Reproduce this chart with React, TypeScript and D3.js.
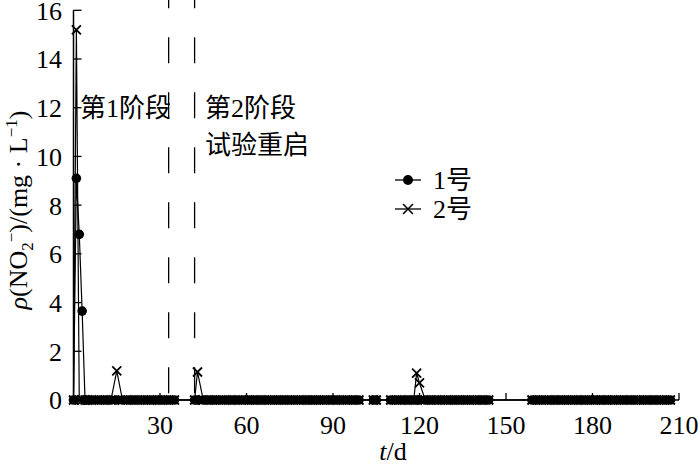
import React from "react";
import * as d3 from "d3";

// sampling days (t/d), shared by both reactors
const days = [
  0, 1, 2, 3, 4, 5, 7, 9, 11, 13, 15, 17, 19, 21, 23, 25, 27, 29, 31, 33, 35,
  42, 43, 45, 47, 49, 51, 53, 55, 57, 59, 61, 63, 65, 67, 69, 71, 73, 75, 77,
  79, 81, 83, 85, 87, 89, 91, 93, 95, 97, 99,
  104, 105,
  110, 112, 114, 116, 118, 119, 120, 122, 124, 126, 128, 130, 132, 134, 136,
  138, 140, 142, 144,
  159, 161, 163, 165, 167, 169, 171, 173, 175, 177, 179, 181, 183, 185, 187,
  189, 191, 193, 195, 197, 199, 201, 203, 205, 207,
];

// 1号 NO2- (mg/L)
const no1 = [
  0, 9.1, 6.8, 3.65, 0, 0, 0, 0, 0, 0, 0, 0, 0, 0, 0, 0, 0, 0, 0, 0, 0,
  0, 0, 0, 0, 0, 0, 0, 0, 0, 0, 0, 0, 0, 0, 0, 0, 0, 0, 0,
  0, 0, 0, 0, 0, 0, 0, 0, 0, 0, 0,
  0, 0,
  0, 0, 0, 0, 0, 0, 0, 0, 0, 0, 0, 0, 0, 0, 0,
  0, 0, 0, 0,
  0, 0, 0, 0, 0, 0, 0, 0, 0, 0, 0, 0, 0, 0, 0,
  0, 0, 0, 0, 0, 0, 0, 0, 0, 0,
];

// 2号 NO2- (mg/L)
const no2 = [
  0, 15.2, 0, 0, 0, 0, 0, 0, 0, 0, 1.2, 0, 0, 0, 0, 0, 0, 0, 0, 0, 0,
  0, 1.15, 0, 0, 0, 0, 0, 0, 0, 0, 0, 0, 0, 0, 0, 0, 0, 0, 0,
  0, 0, 0, 0, 0, 0, 0, 0, 0, 0, 0,
  0, 0,
  0, 0, 0, 0, 0, 1.1, 0.7, 0, 0, 0, 0, 0, 0, 0, 0,
  0, 0, 0, 0,
  0, 0, 0, 0, 0, 0, 0, 0, 0, 0, 0, 0, 0, 0, 0,
  0, 0, 0, 0, 0, 0, 0, 0, 0, 0,
];

const xTicks = [30, 60, 90, 120, 150, 180, 210];
const yTicks = [0, 2, 4, 6, 8, 10, 12, 14, 16];
const stageDays = [33, 42];

const W = 700;
const H = 465;
const SERIF = "'Times New Roman', 'Liberation Serif', 'Noto Sans CJK SC', serif";

export default function App() {
  const x = d3.scaleLinear().domain([0, 210]).range([73.5, 679]);
  const y = d3.scaleLinear().domain([0, 16]).range([400, 10.3]);

  const line = d3
    .line<number>()
    .x((_, i) => x(days[i]))
    .y((d) => y(d));

  const cross = (cx: number, cy: number, s = 4.5) =>
    `M${cx - s},${cy - s}L${cx + s},${cy + s}M${cx - s},${cy + s}L${cx + s},${cy - s}`;

  const [y0, y1] = y.range();

  return (
    <svg
      width={W}
      height={H}
      style={{ position: "absolute", left: 0, top: 0, background: "#fff" }}
      fontFamily={SERIF}
    >
      {/* stage separators */}
      {stageDays.map((d) => (
        <line
          key={d}
          x1={x(d)}
          x2={x(d)}
          y1={y1 - 28}
          y2={y0}
          stroke="#000"
          strokeWidth={1.3}
          strokeDasharray="26 29"
        />
      ))}

      {/* axes */}
      <line x1={x(0)} x2={x(0)} y1={y1} y2={y0} stroke="#000" strokeWidth={1.5} />
      <line x1={x(0)} x2={x(210)} y1={y0} y2={y0} stroke="#000" strokeWidth={1.5} />
      {yTicks.map((t) => (
        <g key={t}>
          <line x1={x(0)} x2={x(0) + 8} y1={y(t)} y2={y(t)} stroke="#000" strokeWidth={1.3} />
          <text x={62} y={y(t)} dy="0.36em" textAnchor="end" fontSize={26}>
            {t}
          </text>
        </g>
      ))}
      {xTicks.map((t) => (
        <g key={t}>
          <line x1={x(t)} x2={x(t)} y1={y0} y2={y0 - 7} stroke="#000" strokeWidth={1.3} />
          <text x={x(t)} y={434} textAnchor="middle" fontSize={26}>
            {t}
          </text>
        </g>
      ))}

      {/* series lines */}
      <path d={line(no1) ?? ""} fill="none" stroke="#000" strokeWidth={1.2} />
      <path d={line(no2) ?? ""} fill="none" stroke="#000" strokeWidth={1.2} />

      {/* markers */}
      {no1.map((v, i) => (
        <circle key={`a${i}`} cx={x(days[i])} cy={y(v)} r={4.8} fill="#000" />
      ))}
      {no2.map((v, i) => (
        <path key={`b${i}`} d={cross(x(days[i]), y(v))} stroke="#000" strokeWidth={1.8} fill="none" />
      ))}

      {/* stage labels */}
      <text x={80} y={117} fontSize={26}>
        第1阶段
      </text>
      <text x={205} y={117} fontSize={26}>
        第2阶段
      </text>
      <text x={205} y={154} fontSize={26}>
        试验重启
      </text>

      {/* legend */}
      <line x1={395} x2={421} y1={180} y2={180} stroke="#000" strokeWidth={1.3} />
      <circle cx={408} cy={180} r={5} fill="#000" />
      <text x={433} y={180} dy="0.35em" fontSize={26}>
        1号
      </text>
      <line x1={395} x2={421} y1={209} y2={209} stroke="#000" strokeWidth={1.3} />
      <path d={cross(408, 209, 5)} stroke="#000" strokeWidth={1.6} fill="none" />
      <text x={433} y={209} dy="0.35em" fontSize={26}>
        2号
      </text>

      {/* axis titles */}
      <text x={393} y={460} textAnchor="middle" fontSize={26}>
        <tspan fontStyle="italic">t</tspan>/d
      </text>
      <text transform="translate(27,210) rotate(-90)" textAnchor="middle" fontSize={26}>
        <tspan fontStyle="italic">ρ</tspan>(NO
        <tspan fontSize={17} dy={6}>2</tspan>
        <tspan fontSize={17} dy={-16}>−</tspan>
        <tspan dy={10}>)/(mg · L</tspan>
        <tspan fontSize={17} dy={-10}>−1</tspan>
        <tspan dy={10}>)</tspan>
      </text>
    </svg>
  );
}
